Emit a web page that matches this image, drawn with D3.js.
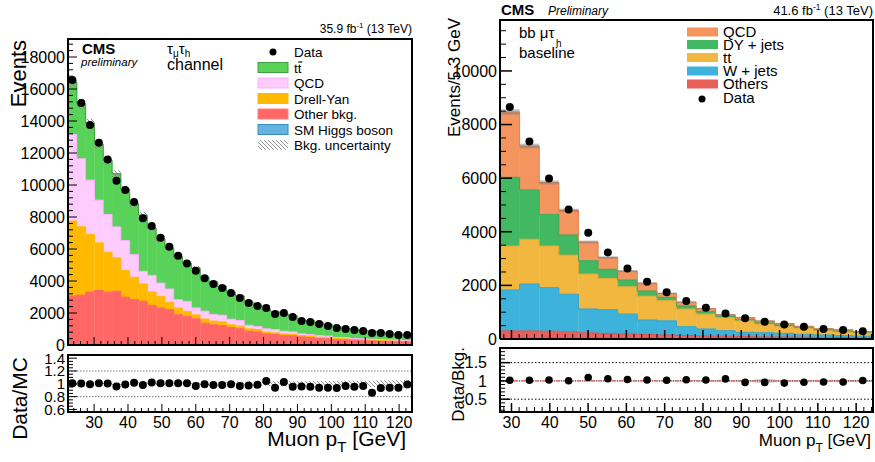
<!DOCTYPE html>
<html><head><meta charset="utf-8">
<script src="https://cdn.jsdelivr.net/npm/d3@7"></script>
<style>body{margin:0;background:#fff}svg{display:block}text{font-family:"Liberation Sans",Arial,Helvetica,sans-serif}</style>
</head><body><svg id="c" width="875" height="462"></svg>
<script>
// ================= DATA =================
// Left: tau_mu tau_h channel, muon pT
const leftBinStart = 22.3, leftBinWidth = 2.6;
const leftHiggs = [40,38,36,34,32,30,28,26,24,22,20,19,18,17,16,15,14,13,12,11,10,10,9,9,8,8,7,7,6,6,6,5,5,5,5,4,4,4,4];
const leftOther = [3020,3080,3270,3375,3270,3330,2960,2810,2710,2460,2290,2190,1880,1770,1625,1350,1250,1200,1080,1010,860,810,690,650,600,570,500,470,420,390,350,330,310,290,270,250,235,220,210];
const leftDY    = [4690,4270,3605,2975,2500,2090,1665,1400,1080,830,730,460,410,310,240,260,230,230,170,160,140,150,110,100,80,80,80,80,60,60,60,60,40,40,40,40,40,40,35];
const leftQCD   = [5415,4250,3395,2670,2355,1930,1875,1415,790,1040,830,830,520,630,435,490,420,420,350,350,220,190,200,210,170,160,110,100,100,100,60,60,60,50,50,50,40,40,45];
const leftTT    = [3275,3450,3550,3480,3375,3330,3220,3185,3520,2960,2770,2580,2690,2360,2490,2110,1990,1780,1670,1530,1470,1330,1210,1100,1090,1020,870,860,810,720,660,590,575,525,510,460,420,365,340];
const leftData  = [16560,15125,13750,12640,11600,10270,9690,8940,7920,7440,6700,6140,5580,5100,4640,4170,3810,3560,3250,2940,2625,2440,2310,1940,2000,1750,1500,1440,1310,1190,1060,1000,940,875,750,750,690,625,625];
const leftRatio = [1.01,1.005,0.995,1.01,1.005,0.96,0.99,1.015,0.98,1.02,1.01,1.01,1.01,1.01,0.965,0.995,0.98,0.98,0.995,0.965,0.975,0.985,1.045,0.94,1.03,0.955,0.96,0.955,0.94,0.94,0.935,0.965,0.955,0.965,0.86,0.935,0.94,0.94,0.99];
const leftUnc   = [0.02,0.02,0.02,0.02,0.02,0.02,0.02,0.025,0.025,0.025,0.025,0.025,0.025,0.03,0.03,0.03,0.03,0.03,0.03,0.035,0.035,0.035,0.035,0.04,0.04,0.04,0.04,0.04,0.045,0.045,0.045,0.05,0.05,0.05,0.05,0.055,0.055,0.055,0.06];
const leftYTicks = [0,2000,4000,6000,8000,10000,12000,14000,16000,18000];
const leftRatioTicks = [0.6,0.8,1,1.2,1.4];
const leftXTicks = [30,40,50,60,70,80,90,100,110,120];
const leftLegend = ["Data","tt","QCD","Drell-Yan","Other bkg.","SM Higgs boson","Bkg. uncertainty"];

// Right: bb mu tau_h baseline, muon pT
const rightBinStart = 27, rightBinWidth = 5.12;
const rightOthers = [300,300,290,260,230,210,190,170,150,130,115,100,90,80,75,70,60,55,50];
const rightW      = [1530,1750,1625,1410,890,885,740,540,530,330,260,210,160,155,135,105,90,70,50];
const rightTT     = [1640,1670,1555,1460,1305,1165,1020,890,750,660,555,490,430,325,260,225,170,145,130];
const rightDY     = [2560,1840,1180,750,495,340,250,190,125,110,90,60,40,40,50,40,30,30,30];
const rightQCD    = [2440,1640,1190,920,700,440,330,290,145,145,115,45,80,70,60,35,35,45,22];
const rightData   = [8650,7370,5985,4830,3960,3230,2630,2135,1740,1415,1165,955,770,645,545,460,375,335,285];
const rightRatio  = [1.02,1.02,1.025,1.005,1.095,1.06,1.04,1.025,1.02,1.03,1.025,1.055,0.96,0.96,0.94,0.965,0.97,0.97,1.01];
const rightUnc    = [0.012,0.012,0.013,0.013,0.014,0.015,0.016,0.017,0.018,0.02,0.02,0.022,0.025,0.045,0.025,0.025,0.03,0.03,0.03];
const rightYTicks = [0,2000,4000,6000,8000,10000];
const rightRatioTicks = [0.5,1,1.5];
const rightXTicks = [30,40,50,60,70,80,90,100,110,120];
const rightLegend = ["QCD","DY + jets","tt","W + jets","Others","Data"];

// ================= DRAWING =================
const svg = d3.select("#c");
const defs = svg.append("defs");
const hatch = defs.append("pattern").attr("id","hatch").attr("patternUnits","userSpaceOnUse")
  .attr("width",4).attr("height",4);
hatch.append("path").attr("d","M-1,-1 L5,5 M-1,3 L1,5 M3,-1 L5,1").attr("stroke","#777").attr("stroke-width",0.8);

function clip(id, x, y, w, h){
  defs.append("clipPath").attr("id",id).append("rect").attr("x",x).attr("y",y).attr("width",w).attr("height",h);
  return "url(#"+id+")";
}
function ticks(g, scale, vals, len, side, fixed, sw){
  g.selectAll(null).data(vals).join("line")
    .attr("x1", d => side==="left" ? fixed : scale(d))
    .attr("x2", d => side==="left" ? fixed+len : scale(d))
    .attr("y1", d => side==="left" ? scale(d) : fixed)
    .attr("y2", d => side==="left" ? scale(d) : fixed-len)
    .attr("stroke","#000").attr("stroke-width", sw||1);
}
function minor(domain, step, majors){
  const out=[]; const s=Math.ceil(domain[0]/step-1e-9);
  for(let k=s; k*step<=domain[1]+1e-9; k++){ const v=+(k*step).toFixed(6); if(!majors.some(m=>Math.abs(m-v)<1e-6)) out.push(v); }
  return out;
}
function drawStack(g, x, y, edges, keys, cols, lines, table){
  const series = d3.stack().keys(keys)(table);
  series.forEach((s,k)=>{
    g.selectAll(null).data(s).join("rect")
      .attr("x",(d,i)=>x(edges[i])).attr("width",(d,i)=>x(edges[i+1])-x(edges[i])+0.3)
      .attr("y",d=>y(d[1])).attr("height",d=>Math.max(0,y(d[0])-y(d[1])))
      .attr("fill",cols[k]);
  });
  series.forEach((s,k)=>{
    const pts = edges.map((e,i)=>[x(e), y(s[Math.min(i,s.length-1)][1])]);
    g.append("path").attr("d", d3.line().curve(d3.curveStepAfter)(pts))
      .attr("fill","none").attr("stroke",lines[k]).attr("stroke-width",1);
  });
  return series[series.length-1].map(d=>d[1]);
}

// ---------- LEFT PANEL ----------
(function(){
  const n = leftData.length;
  const edges = d3.range(n+1).map(i=>leftBinStart+i*leftBinWidth);
  const centers = d3.range(n).map(i=>leftBinStart+(i+0.5)*leftBinWidth);
  const F = {x0:68, x1:412, y0:39, y1:345};
  const R = {y0:355, y1:412};
  const x = d3.scaleLinear().domain([22.3,123.8]).range([F.x0,F.x1]);
  const y = d3.scaleLinear().domain([0,19125]).range([F.y1,F.y0]);
  const yr = d3.scaleLinear().domain([0.56,1.45]).range([R.y1,R.y0]);
  const g = svg.append("g");
  const gm = g.append("g").attr("clip-path", clip("clipL",F.x0,F.y0,F.x1-F.x0,F.y1-F.y0));
  const table = leftOther.map((v,i)=>({higgs:leftHiggs[i],other:v,dy:leftDY[i],qcd:leftQCD[i],tt:leftTT[i]}));
  const tot = drawStack(gm,x,y,edges,["higgs","other","dy","qcd","tt"],
    ["#66b3e0","#ff6666","#ffb900","#ffccff","#58d258"],
    ["#66b3e0","#ff6666","#ffb900","#ffb0ff","#3fa03f"], table);
  gm.selectAll(null).data(tot).join("rect")
    .attr("x",(d,i)=>x(edges[i])).attr("width",(d,i)=>x(edges[i+1])-x(edges[i]))
    .attr("y",(d,i)=>y(d*(1+leftUnc[i]))).attr("height",(d,i)=>y(d*(1-leftUnc[i]))-y(d*(1+leftUnc[i])))
    .attr("fill","url(#hatch)");
  gm.selectAll(null).data(leftData).join("line")
    .attr("x1",(d,i)=>x(centers[i])).attr("x2",(d,i)=>x(centers[i]))
    .attr("y1",d=>y(d+Math.sqrt(d))).attr("y2",d=>y(d-Math.sqrt(d))).attr("stroke","#000");
  gm.selectAll(null).data(leftData).join("circle")
    .attr("cx",(d,i)=>x(centers[i])).attr("cy",d=>y(d)).attr("r",4).attr("fill","#000");
  ticks(g,y,leftYTicks,9,"left",F.x0);
  ticks(g,y,minor([0,19125],400,leftYTicks),5,"left",F.x0);
  ticks(g,x,leftXTicks,8,"bottom",F.y1);
  ticks(g,x,minor([22.3,123.8],2,leftXTicks),4,"bottom",F.y1);
  g.append("rect").attr("x",F.x0).attr("y",F.y0).attr("width",F.x1-F.x0).attr("height",F.y1-F.y0)
    .attr("fill","none").attr("stroke","#000").attr("stroke-width",2);
  g.selectAll(null).data(leftYTicks).join("text")
    .attr("x",65).attr("y",d=>y(d)).attr("dy","0.36em").attr("text-anchor","end")
    .attr("font-size",16).text(d=>d);
  // ratio
  const gr = g.append("g").attr("clip-path", clip("clipLR",F.x0,R.y0,F.x1-F.x0,R.y1-R.y0));
  [1.2,0.8].forEach(v=>gr.append("line").attr("x1",F.x0).attr("x2",F.x1).attr("y1",yr(v)).attr("y2",yr(v))
    .attr("stroke","#555").attr("stroke-width",0.8).attr("stroke-dasharray","1.5,1.5"));
  gr.selectAll(null).data(leftUnc).join("rect")
    .attr("x",(d,i)=>x(edges[i])).attr("width",(d,i)=>x(edges[i+1])-x(edges[i]))
    .attr("y",d=>yr(1+d)).attr("height",d=>yr(1-d)-yr(1+d)).attr("fill","url(#hatch)");
  gr.selectAll(null).data(leftRatio).join("circle")
    .attr("cx",(d,i)=>x(centers[i])).attr("cy",d=>yr(d)).attr("r",4).attr("fill","#000");
  ticks(g,yr,leftRatioTicks,9,"left",F.x0);
  ticks(g,yr,minor([0.56,1.45],0.05,leftRatioTicks),5,"left",F.x0);
  ticks(g,x,leftXTicks,8,"bottom",R.y1);
  ticks(g,x,minor([22.3,123.8],2,leftXTicks),4,"bottom",R.y1);
  g.append("rect").attr("x",F.x0).attr("y",R.y0).attr("width",F.x1-F.x0).attr("height",R.y1-R.y0)
    .attr("fill","none").attr("stroke","#000").attr("stroke-width",2);
  g.selectAll(null).data(leftRatioTicks).join("text")
    .attr("x",65).attr("y",d=>yr(d)).attr("dy","0.36em").attr("text-anchor","end")
    .attr("font-size",15).text(d=>d);
  g.selectAll(null).data(leftXTicks).join("text")
    .attr("x",d=>x(d)).attr("y",428).attr("text-anchor","middle").attr("font-size",16).text(d=>d);
  g.append("text").attr("transform","translate(26,40) rotate(-90)").attr("text-anchor","end")
    .attr("font-size",22).text("Events");
  g.append("text").attr("transform","translate(27,357) rotate(-90)").attr("text-anchor","end")
    .attr("font-size",21).text("Data/MC");
  const xt = g.append("text").attr("x",406).attr("y",446).attr("text-anchor","end").attr("font-size",21);
  xt.append("tspan").text("Muon p");
  xt.append("tspan").attr("font-size",15).attr("dy",6).text("T");
  xt.append("tspan").attr("dy",-6).text(" [GeV]");
  g.append("text").attr("x",82).attr("y",54).attr("font-size",15).attr("font-weight","bold").text("CMS");
  g.append("text").attr("x",81).attr("y",66).attr("font-size",11.5).attr("font-style","italic").text("preliminary");
  const ch = g.append("text").attr("x",167).attr("y",54).attr("font-size",15);
  ch.append("tspan").text("τ"); ch.append("tspan").attr("font-size",10).attr("dy",3).text("μ");
  ch.append("tspan").attr("dy",-3).text("τ"); ch.append("tspan").attr("font-size",10).attr("dy",3).text("h");
  g.append("text").attr("x",167).attr("y",70).attr("font-size",16).text("channel");
  const lm = g.append("text").attr("x",412).attr("y",33).attr("text-anchor","end").attr("font-size",12);
  lm.append("tspan").text("35.9 fb"); lm.append("tspan").attr("font-size",8).attr("dy",-5).text("-1");
  lm.append("tspan").attr("dy",5).text(" (13 TeV)");
  const fills = [null,"#58d258","#ffccff","#ffb900","#ff6666","#66b3e0","url(#hatch)"];
  const strokes = [null,"#3fa03f","#ffb0ff","#ffb900","#ff8080","#3a8fc0","none"];
  leftLegend.forEach((t,i)=>{
    const cy = 52 + i*15.5;
    if(i===0) g.append("circle").attr("cx",273).attr("cy",cy).attr("r",3.5).attr("fill","#000");
    else g.append("rect").attr("x",258).attr("y",cy-5).attr("width",30).attr("height",10)
      .attr("fill",fills[i]).attr("stroke",strokes[i]).attr("stroke-width",1);
    g.append("text").attr("x",294).attr("y",cy+5).attr("font-size",13.5).text(t);
  });
  // overline of t-bar in legend
  g.append("line").attr("x1",298.2).attr("x2",302.4).attr("y1",62).attr("y2",62).attr("stroke","#000").attr("stroke-width",1.1);
})();

// ---------- RIGHT PANEL ----------
(function(){
  const n = rightData.length;
  const edges = d3.range(n+1).map(i=>rightBinStart+i*rightBinWidth);
  const centers = d3.range(n).map(i=>rightBinStart+(i+0.5)*rightBinWidth);
  const F = {x0:500, x1:873, y0:20, y1:339};
  const R = {y0:348, y1:412};
  const x = d3.scaleLinear().domain([27,124.4]).range([F.x0,F.x1]);
  const y = d3.scaleLinear().domain([0,11900]).range([F.y1,F.y0]);
  const yr = d3.scaleLinear().domain([0.15,1.9]).range([R.y1,R.y0]);
  const g = svg.append("g");
  const gm = g.append("g").attr("clip-path", clip("clipR",F.x0,F.y0,F.x1-F.x0,F.y1-F.y0));
  const table = rightOthers.map((v,i)=>({others:v,w:rightW[i],tt:rightTT[i],dy:rightDY[i],qcd:rightQCD[i]}));
  const cols = ["#e9605b","#3db2db","#f1b73e","#43b863","#f4955f"];
  const tot = drawStack(gm,x,y,edges,["others","w","tt","dy","qcd"],cols,
    ["#d8544f","#35a3cb","#e0a835","#3aa758","#e3864f"],table);
  gm.selectAll(null).data(tot).join("rect")
    .attr("x",(d,i)=>x(edges[i])).attr("width",(d,i)=>x(edges[i+1])-x(edges[i]))
    .attr("y",(d,i)=>y(d*(1+rightUnc[i]))).attr("height",(d,i)=>y(d*(1-rightUnc[i]))-y(d*(1+rightUnc[i])))
    .attr("fill","#777").attr("fill-opacity",0.45);
  gm.selectAll(null).data(rightData).join("circle")
    .attr("cx",(d,i)=>x(centers[i])).attr("cy",d=>y(d)).attr("r",4).attr("fill","#000");
  ticks(g,y,rightYTicks,12,"left",F.x0,1.5);
  ticks(g,y,minor([0,11900],500,rightYTicks),6,"left",F.x0);
  ticks(g,x,rightXTicks,9,"bottom",F.y1,1.5);
  ticks(g,x,minor([27,124.4],2,rightXTicks),5,"bottom",F.y1);
  g.append("polyline").attr("points",`${F.x0},${F.y1} ${F.x0},${F.y0} ${F.x1},${F.y0} ${F.x1},${F.y1} ${F.x0},${F.y1}`)
    .attr("fill","none").attr("stroke","#000").attr("stroke-width",2);
  g.selectAll(null).data(rightYTicks).join("text")
    .attr("x",497).attr("y",d=>y(d)).attr("dy","0.36em").attr("text-anchor","end")
    .attr("font-size",16).text(d=>d);
  // ratio
  const gr = g.append("g").attr("clip-path", clip("clipRR",F.x0,R.y0,F.x1-F.x0,R.y1-R.y0));
  gr.selectAll(null).data(rightUnc).join("rect")
    .attr("x",(d,i)=>x(edges[i])).attr("width",(d,i)=>x(edges[i+1])-x(edges[i]))
    .attr("y",d=>yr(1+d)).attr("height",d=>yr(1-d)-yr(1+d)).attr("fill","#999").attr("fill-opacity",0.6);
  [1.5,0.5].forEach(v=>gr.append("line").attr("x1",F.x0).attr("x2",F.x1).attr("y1",yr(v)).attr("y2",yr(v))
    .attr("stroke","#000").attr("stroke-width",1).attr("stroke-dasharray","1.5,2"));
  gr.append("line").attr("x1",F.x0).attr("x2",F.x1).attr("y1",yr(1)).attr("y2",yr(1))
    .attr("stroke","#d33").attr("stroke-width",1).attr("stroke-dasharray","4,3");
  gr.append("line").attr("x1",F.x0).attr("x2",F.x1).attr("y1",yr(1)).attr("y2",yr(1))
    .attr("stroke","#000").attr("stroke-width",0.8).attr("stroke-dasharray","1,6").attr("stroke-dashoffset",-5);
  gr.selectAll(null).data(rightRatio).join("circle")
    .attr("cx",(d,i)=>x(centers[i])).attr("cy",d=>yr(d)).attr("r",3.8).attr("fill","#000");
  ticks(g,yr,rightRatioTicks,10,"left",F.x0,1.5);
  ticks(g,yr,minor([0.15,1.9],0.1,rightRatioTicks),5,"left",F.x0);
  ticks(g,x,rightXTicks,9,"bottom",R.y1,1.5);
  ticks(g,x,minor([27,124.4],2,rightXTicks),5,"bottom",R.y1);
  g.append("rect").attr("x",F.x0).attr("y",R.y0).attr("width",F.x1-F.x0).attr("height",R.y1-R.y0)
    .attr("fill","none").attr("stroke","#000").attr("stroke-width",2);
  g.selectAll(null).data(rightRatioTicks).join("text")
    .attr("x",487).attr("y",d=>yr(d)).attr("dy","0.36em").attr("text-anchor","end")
    .attr("font-size",16).text(d=>d);
  g.selectAll(null).data(rightXTicks).join("text")
    .attr("x",d=>x(d)).attr("y",428).attr("text-anchor","middle").attr("font-size",16).text(d=>d);
  g.append("text").attr("transform","translate(460,18) rotate(-90)").attr("text-anchor","end")
    .attr("font-size",17).text("Events/5.3 GeV");
  g.append("text").attr("transform","translate(464,347) rotate(-90)").attr("text-anchor","end")
    .attr("font-size",17).text("Data/Bkg.");
  const xt = g.append("text").attr("x",871).attr("y",446).attr("text-anchor","end").attr("font-size",17);
  xt.append("tspan").text("Muon p");
  xt.append("tspan").attr("font-size",12).attr("dy",6).text("T");
  xt.append("tspan").attr("dy",-6).text(" [GeV]");
  g.append("text").attr("x",501).attr("y",15).attr("font-size",15).attr("font-weight","bold").text("CMS");
  g.append("text").attr("x",548).attr("y",15).attr("font-size",12).attr("font-style","italic").text("Preliminary");
  const lm = g.append("text").attr("x",873).attr("y",15).attr("text-anchor","end").attr("font-size",13);
  lm.append("tspan").text("41.6 fb"); lm.append("tspan").attr("font-size",8.5).attr("dy",-5).text("-1");
  lm.append("tspan").attr("dy",5).text(" (13 TeV)");
  g.append("text").attr("x",519).attr("y",38).attr("font-size",15).text("bb μτ");
  g.append("text").attr("x",556).attr("y",47).attr("font-size",10).text("h");
  g.append("text").attr("x",519).attr("y",58).attr("font-size",15).text("baseline");
  const lcols = ["#f4955f","#43b863","#f1b73e","#3db2db","#e9605b",null];
  const lys = [32,44.5,57.5,71,84,97];
  rightLegend.forEach((t,i)=>{
    const cy = lys[i];
    if(lcols[i]) g.append("rect").attr("x",687).attr("y",cy-4.5).attr("width",31).attr("height",9).attr("fill",lcols[i]);
    else g.append("circle").attr("cx",702).attr("cy",cy+2).attr("r",3.5).attr("fill","#000");
    g.append("text").attr("x",723).attr("y",cy+(i===5?5.5:5)).attr("font-size",15).text(t);
  });
})();
</script></body></html>
